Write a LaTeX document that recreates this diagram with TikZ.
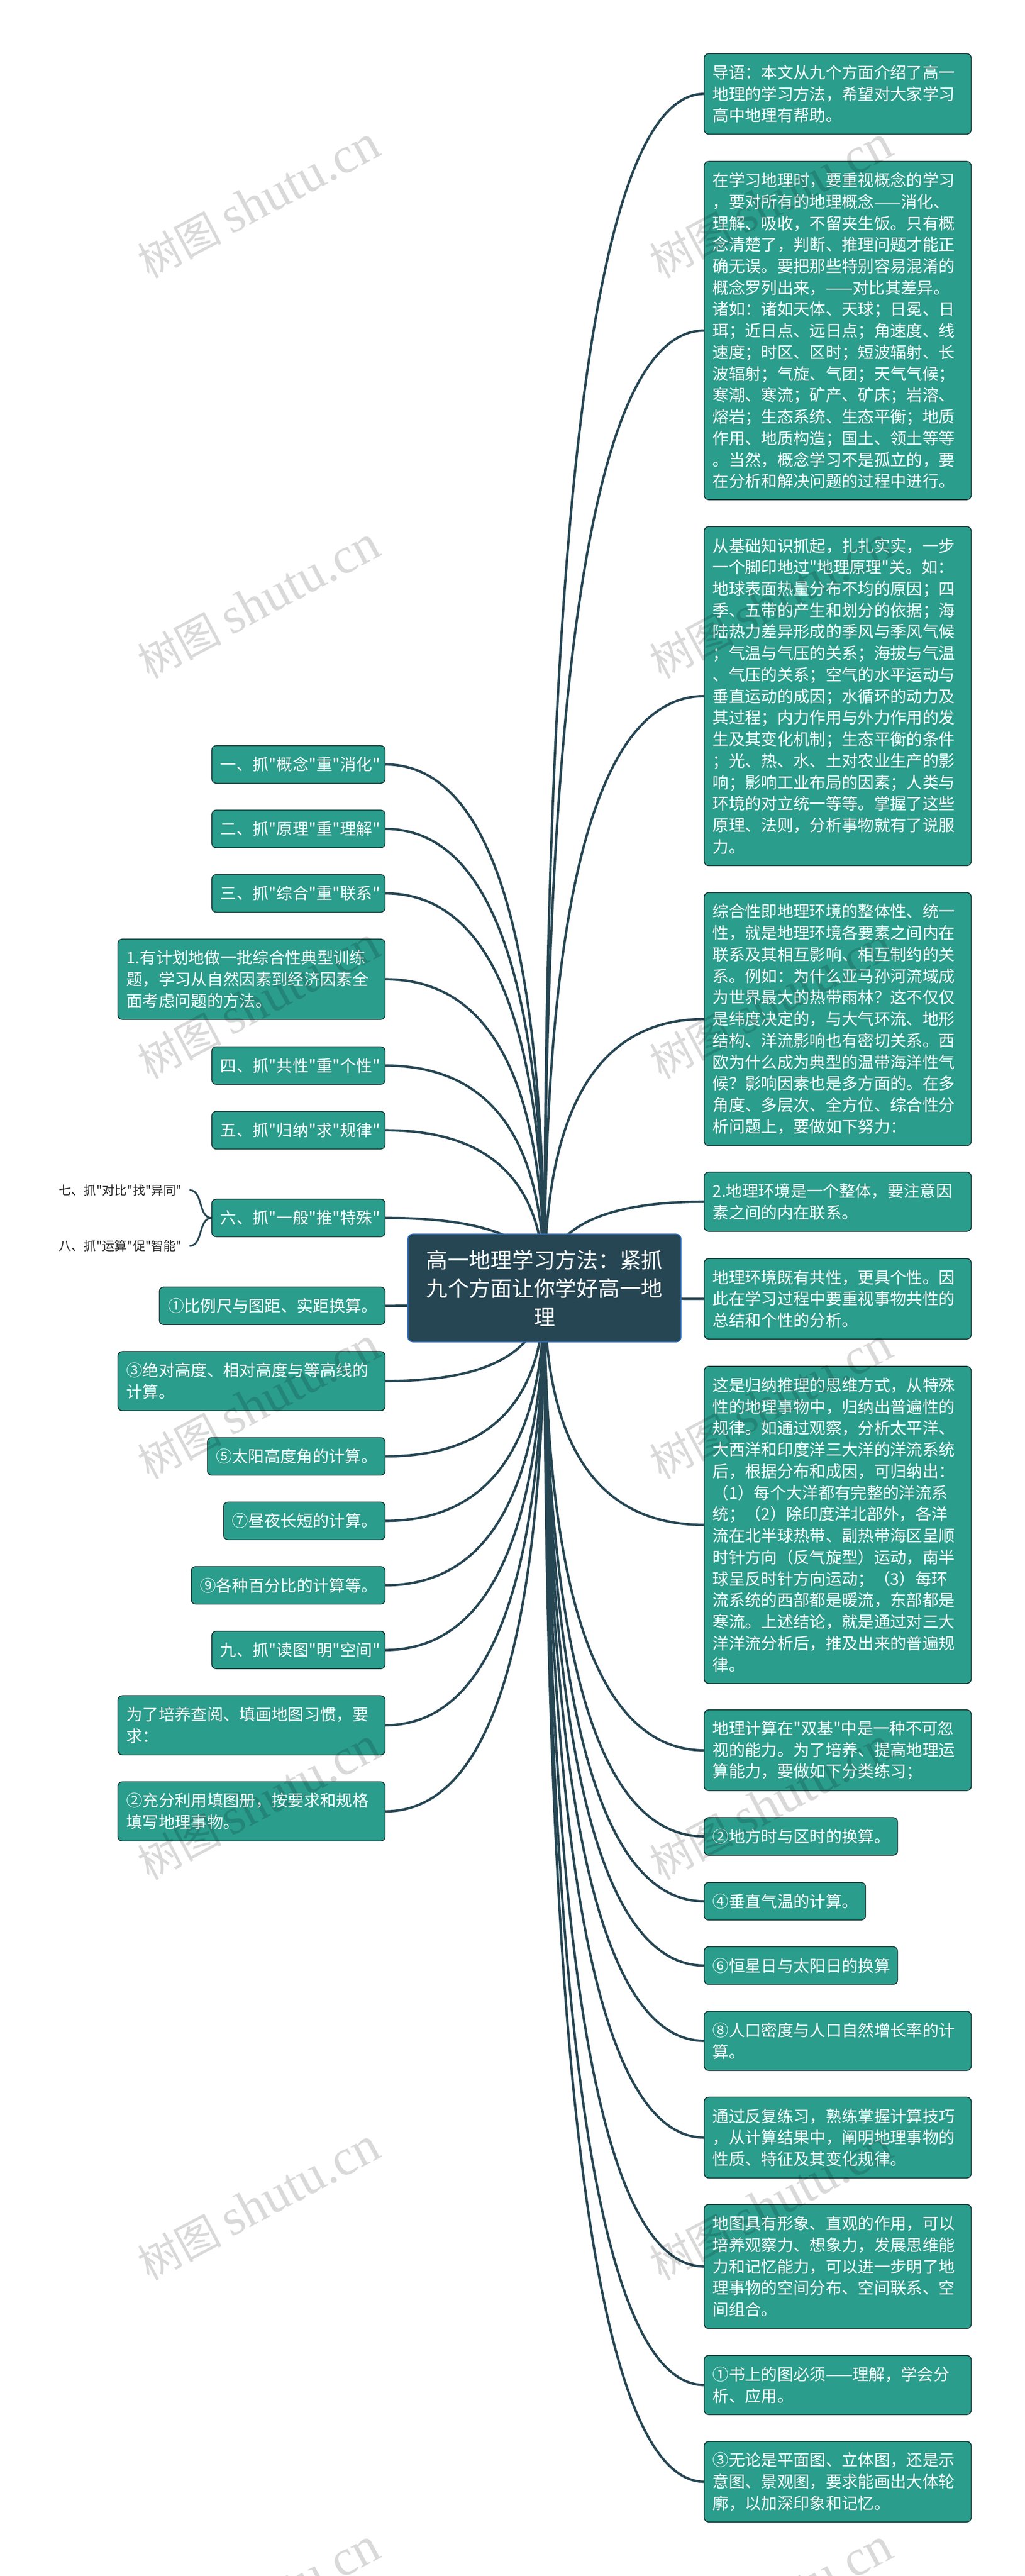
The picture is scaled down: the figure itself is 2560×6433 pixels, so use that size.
\documentclass[tikz,border=0pt]{standalone}
\usepackage{fontspec}
\newfontfamily\cnfont{Noto Sans CJK SC}
\newfontfamily\wmlatin{Liberation Serif}
\usetikzlibrary{calc,backgrounds}

\definecolor{topicfill}{HTML}{2A9D8C}
\definecolor{topicline}{HTML}{12302E}
\definecolor{rootfill}{HTML}{264653}
\definecolor{rootline}{HTML}{2D6DBE}

\tikzset{
  topic/.style 2 args={draw=topicline,line width=1pt,fill=topicfill,text=white,
    rounded corners=5.5pt,outer sep=0pt,inner ysep=0pt,inner xsep=10.75pt,
    text width=#1*.5pt-21.5pt,minimum height=#2*.5pt,align=left,
    font=\cnfont\fontsize{20.15}{26.85}\selectfont},
  rnode/.style 2 args={topic={#1}{#2},anchor=west},
  lnode/.style 2 args={topic={#1}{#2},anchor=east},
  leaf/.style={text=black!85,inner sep=0pt,outer sep=9.5pt,
    font=\cnfont\fontsize{15.5}{20}\selectfont},
  root/.style={draw=rootline,line width=1.3pt,fill=rootfill,text=white,
    rounded corners=6pt,outer sep=0pt,inner sep=0pt,minimum width=341pt,
    minimum height=134.5pt,align=center,
    font=\cnfont\fontsize{26.85}{35.7}\selectfont},
  branch/.style={draw=rootfill,line width=3pt},
  twig/.style={draw=rootfill,line width=2.2pt}
}

\begin{document}
\begin{tikzpicture}[x=.5pt,y=-.5pt]
      \useasboundingbox (0,0) rectangle (2560,6433);

      \node[root] (ctr) at (1360,3216.5) {高一地理学习方法：紧抓\\九个方面让你学好高一地\\理};

      \begin{scope}
        \node[rnode={667}{201}] (r1) at (1759,234.5) {导语：本文从九个方面介绍了高一\\地理的学习方法，希望对大家学习\\高中地理有帮助。};
        \node[rnode={667}{845}] (r2) at (1759,825.5) {在学习地理时，要重视概念的学习\\，要对所有的地理概念——消化、\\理解、吸收，不留夹生饭。只有概\\念清楚了，判断、推理问题才能正\\确无误。要把那些特别容易混淆的\\概念罗列出来，——对比其差异。\\诸如：诸如天体、天球；日冕、日\\珥；近日点、远日点；角速度、线\\速度；时区、区时；短波辐射、长\\波辐射；气旋、气团；天气气候；\\寒潮、寒流；矿产、矿床；岩溶、\\熔岩；生态系统、生态平衡；地质\\作用、地质构造；国土、领土等等\\。当然，概念学习不是孤立的，要\\在分析和解决问题的过程中进行。};
        \node[rnode={667}{847}] (r3) at (1759,1738.5) {从基础知识抓起，扎扎实实，一步\\一个脚印地过"地理原理"关。如：\\地球表面热量分布不均的原因；四\\季、五带的产生和划分的依据；海\\陆热力差异形成的季风与季风气候\\；气温与气压的关系；海拔与气温\\、气压的关系；空气的水平运动与\\垂直运动的成因；水循环的动力及\\其过程；内力作用与外力作用的发\\生及其变化机制；生态平衡的条件\\；光、热、水、土对农业生产的影\\响；影响工业布局的因素；人类与\\环境的对立统一等等。掌握了这些\\原理、法则，分析事物就有了说服\\力。};
        \node[rnode={667}{632}] (r4) at (1759,2545) {综合性即地理环境的整体性、统一\\性，就是地理环境各要素之间内在\\联系及其相互影响、相互制约的关\\系。例如：为什么亚马孙河流域成\\为世界最大的热带雨林？这不仅仅\\是纬度决定的，与大气环流、地形\\结构、洋流影响也有密切关系。西\\欧为什么成为典型的温带海洋性气\\候？影响因素也是多方面的。在多\\角度、多层次、全方位、综合性分\\析问题上，要做如下努力：};
        \node[rnode={667}{148}] (r5) at (1759,3001) {2.地理环境是一个整体，要注意因\\素之间的内在联系。};
        \node[rnode={667}{201}] (r6) at (1759,3243.5) {地理环境既有共性，更具个性。因\\此在学习过程中要重视事物共性的\\总结和个性的分析。};
        \node[rnode={667}{792}] (r7) at (1759,3808) {这是归纳推理的思维方式，从特殊\\性的地理事物中，归纳出普遍性的\\规律。如通过观察，分析太平洋、\\大西洋和印度洋三大洋的洋流系统\\后，根据分布和成因，可归纳出：\\（1）每个大洋都有完整的洋流系\\统；（2）除印度洋北部外，各洋\\流在北半球热带、副热带海区呈顺\\时针方向（反气旋型）运动，南半\\球呈反时针方向运动；（3）每环\\流系统的西部都是暖流，东部都是\\寒流。上述结论，就是通过对三大\\洋洋流分析后，推及出来的普遍规\\律。};
        \node[rnode={667}{202}] (r8) at (1759,4371) {地理计算在"双基"中是一种不可忽\\视的能力。为了培养、提高地理运\\算能力，要做如下分类练习；};
        \node[rnode={483}{94}] (r9) at (1759,4586) {②地方时与区时的换算。};
        \node[rnode={403}{94}] (r10) at (1759,4748) {④垂直气温的计算。};
        \node[rnode={483}{94}] (r11) at (1759,4908.5) {⑥恒星日与太阳日的换算};
        \node[rnode={667}{148}] (r12) at (1759,5096.5) {⑧人口密度与人口自然增长率的计\\算。};
        \node[rnode={667}{202}] (r13) at (1759,5338) {通过反复练习，熟练掌握计算技巧\\，从计算结果中，阐明地理事物的\\性质、特征及其变化规律。};
        \node[rnode={667}{310}] (r14) at (1759,5660) {地图具有形象、直观的作用，可以\\培养观察力、想象力，发展思维能\\力和记忆能力，可以进一步明了地\\理事物的空间分布、空间联系、空\\间组合。};
        \node[rnode={667}{148}] (r15) at (1759,5956) {①书上的图必须——理解，学会分\\析、应用。};
        \node[rnode={667}{201}] (r16) at (1759,6197.5) {③无论是平面图、立体图，还是示\\意图、景观图，要求能画出大体轮\\廓，以加深印象和记忆。};
      \end{scope}

      \begin{scope}
        \node[lnode={433}{94}] (l1) at (962,1909) {一、抓"概念"重"消化"};
        \node[lnode={433}{94}] (l2) at (962,2070) {二、抓"原理"重"理解"};
        \node[lnode={433}{94}] (l3) at (962,2231) {三、抓"综合"重"联系"};
        \node[lnode={667.5}{201}] (l4) at (962,2445.5) {1.有计划地做一批综合性典型训练\\题，学习从自然因素到经济因素全\\面考虑问题的方法。};
        \node[lnode={433}{94}] (l5) at (962,2661) {四、抓"共性"重"个性"};
        \node[lnode={433}{94}] (l6) at (962,2822.5) {五、抓"归纳"求"规律"};
        \node[lnode={433}{94}] (l7) at (962,3041.5) {六、抓"一般"推"特殊"};
        \node[lnode={564}{94}] (l8) at (962,3261) {①比例尺与图距、实距换算。};
        \node[lnode={667.5}{148}] (l9) at (962,3449) {③绝对高度、相对高度与等高线的\\计算。};
        \node[lnode={444}{94}] (l10) at (962,3637) {⑤太阳高度角的计算。};
        \node[lnode={403.5}{94}] (l11) at (962,3798) {⑦昼夜长短的计算。};
        \node[lnode={484}{94}] (l12) at (962,3959) {⑨各种百分比的计算等。};
        \node[lnode={433}{94}] (l13) at (962,4120.5) {九、抓"读图"明"空间"};
        \node[lnode={667.5}{148}] (l14) at (962,4308.5) {为了培养查阅、填画地图习惯，要\\求：};
        \node[lnode={667.5}{148}] (l15) at (962,4523.5) {②充分利用填图册，按要求和规格\\填写地理事物。};
      \end{scope}

      \node[leaf] (l7a) at (301,2972) {七、抓"对比"找"异同"};
      \node[leaf] (l7b) at (301,3111.5) {八、抓"运算"促"智能"};

      \begin{scope}[on background layer]
        \foreach \n in {r1,r2,r3,r4,r5,r6,r7,r8,r9,r10,r11,r12,r13,r14,r15,r16}
          \draw[branch] (ctr.center) .. controls ($(ctr.center)!.667!(ctr.center |- \n.west)$) and ($(\n.west)!.667!(ctr.center |- \n.west)$) .. (\n.west);
        \foreach \n in {l1,l2,l3,l4,l5,l6,l7,l8,l9,l10,l11,l12,l13,l14,l15}
          \draw[branch] (ctr.center) .. controls ($(ctr.center)!.667!(ctr.center |- \n.east)$) and ($(\n.east)!.667!(ctr.center |- \n.east)$) .. (\n.east);
        \draw[twig] (l7.west) to[out=180,in=0] (l7a.east);
        \draw[twig] (l7.west) to[out=180,in=0] (l7b.east);
      \end{scope}

      \foreach \i in {646,1926}
        \foreach \j in {505,1505,2505,3505,4505,5505,6505}
          \node[text=black,text opacity=.15,rotate=28,inner sep=0pt] (wm\i-\j) at (\i,\j)
            {\cnfont\fontsize{52.5}{60}\selectfont 树图\ \fontsize{64}{70}\selectfont\wmlatin shutu.cn};
\end{tikzpicture}
\end{document}
